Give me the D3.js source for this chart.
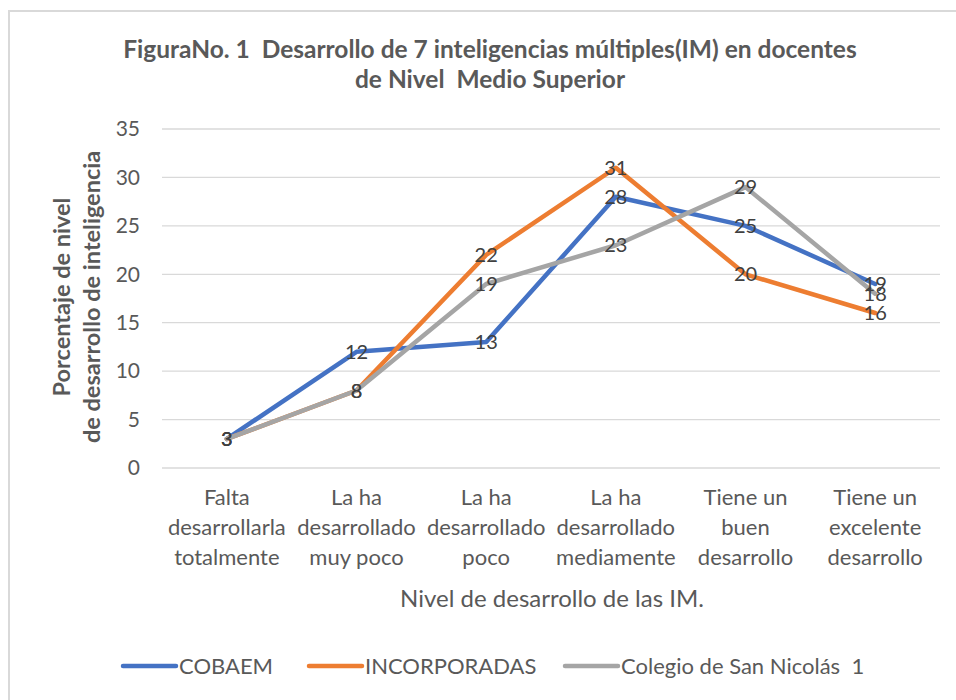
<!DOCTYPE html>
<html>
<head>
<meta charset="utf-8">
<script src="https://cdn.jsdelivr.net/npm/d3@7"></script>
<style>
  body { margin: 0; background: #fff; }
  svg { display: block; font-family: Lato, "Open Sans", sans-serif; }
</style>
</head>
<body>
<script>
var categories = [
  ['Falta', 'desarrollarla', 'totalmente'],
  ['La ha', 'desarrollado', 'muy poco'],
  ['La ha', 'desarrollado', 'poco'],
  ['La ha', 'desarrollado', 'mediamente'],
  ['Tiene un', 'buen', 'desarrollo'],
  ['Tiene un', 'excelente', 'desarrollo']
];
var series_names = ['COBAEM', 'INCORPORADAS', 'Colegio de San Nicolás  1'];
var cobaem = [3, 12, 13, 28, 25, 19];
var incorporadas = [3, 8, 22, 31, 20, 16];
var colegio = [3, 8, 19, 23, 29, 18];
var y_ticks = [0, 5, 10, 15, 20, 25, 30, 35];

var colors = ['#4472c4', '#ed7d31', '#a5a5a5'];
var all_series = [cobaem, incorporadas, colegio];

var width = 956, height = 700;
var svg = d3.select('body').append('svg').attr('width', width).attr('height', height);

// chart border
svg.append('rect').attr('x', 9).attr('y', 11).attr('width', 960).attr('height', 700)
  .attr('fill', 'none').attr('stroke', '#d9d9d9').attr('stroke-width', 2);

var x = d3.scaleBand().domain(d3.range(categories.length)).range([162, 940]);
var y = d3.scaleLinear().domain([0, 35]).range([468, 129]);

// gridlines
svg.append('g').selectAll('line').data(y_ticks).enter().append('line')
  .attr('x1', 162).attr('x2', 940)
  .attr('y1', function(d) { return y(d); }).attr('y2', function(d) { return y(d); })
  .attr('stroke', '#d9d9d9').attr('stroke-width', 1.3);

// y tick labels
var yAxis = d3.axisLeft(y).tickValues(y_ticks).tickSize(0).tickPadding(22);
var ya = svg.append('g').attr('transform', 'translate(162,0)').call(yAxis);
ya.select('.domain').remove();
ya.selectAll('text').style('font-size', '21px').attr('fill', '#595959')
  .style('font-family', 'Lato, sans-serif');

// category labels
var cat = svg.append('g').selectAll('text').data(categories).enter().append('text')
  .attr('text-anchor', 'middle').style('font-size', '22px').attr('fill', '#595959')
  .attr('x', function(d, i) { return x(i) + x.bandwidth() / 2; })
  .attr('y', 505);
cat.selectAll('tspan').data(function(d) { return d; }).enter().append('tspan')
  .attr('x', function() { return d3.select(this.parentNode).attr('x'); })
  .attr('dy', function(d, i) { return i === 0 ? 0 : 30; })
  .text(function(d) { return d; });

// axis title
svg.append('text').attr('x', 552).attr('y', 607).attr('text-anchor', 'middle')
  .style('font-size', '24px').attr('fill', '#595959').text('Nivel de desarrollo de las IM.');

// y axis title
var yt = svg.append('text').attr('transform', 'translate(0,297) rotate(-90)')
  .attr('text-anchor', 'middle').style('font-size', '23.5px').style('font-weight', 'bold')
  .attr('fill', '#595959');
yt.append('tspan').attr('x', 0).attr('y', 70).text('Porcentaje de nivel');
yt.append('tspan').attr('x', 0).attr('y', 100).text('de desarrollo de inteligencia');

// title
var tt = svg.append('text').attr('text-anchor', 'middle').style('font-size', '24.5px')
  .style('font-weight', 'bold').attr('fill', '#595959').style('white-space', 'pre');
tt.append('tspan').attr('x', 490).attr('y', 58).text('FiguraNo. 1  Desarrollo de 7 inteligencias múltiples(IM) en docentes');
tt.append('tspan').attr('x', 490).attr('y', 88).text('de Nivel  Medio Superior');

// lines
var line = d3.line()
  .x(function(d, i) { return x(i) + x.bandwidth() / 2; })
  .y(function(d) { return y(d); });

all_series.forEach(function(s, k) {
  svg.append('path').attr('d', line(s)).attr('fill', 'none')
    .attr('stroke', colors[k]).attr('stroke-width', 4.5).attr('stroke-linejoin', 'round')
    .attr('stroke-linecap', 'round');
});

// data labels
all_series.forEach(function(s, k) {
  svg.append('g').selectAll('text').data(s).enter().append('text')
    .attr('text-anchor', 'middle').style('font-size', '20px').attr('fill', '#404040')
    .attr('x', function(d, i) { return x(i) + x.bandwidth() / 2; })
    .attr('y', function(d, i) { return y(d) + 7; })
    .text(function(d) { return d; });
});

// legend
var legend_x = [121, 307, 563];
series_names.forEach(function(name, k) {
  var g = svg.append('g').attr('transform', 'translate(' + legend_x[k] + ',666)');
  g.append('line').attr('x1', 2).attr('x2', 55).attr('y1', 0).attr('y2', 0)
    .attr('stroke', colors[k]).attr('stroke-width', 4.5).attr('stroke-linecap', 'round');
  g.append('text').attr('x', 58).attr('y', 8).style('font-size', '22px')
    .style('white-space', 'pre').attr('fill', '#595959').text(name);
});
</script>
</body>
</html>
